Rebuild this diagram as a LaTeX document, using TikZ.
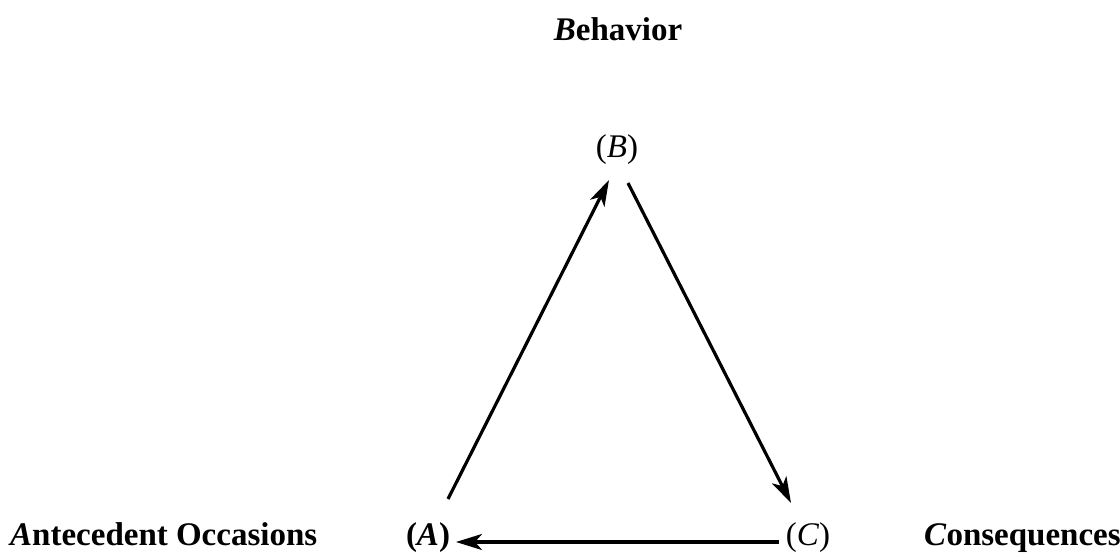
\documentclass[tikz,border=0pt]{standalone}
\usepackage{fontspec}
\setmainfont{Liberation Serif}
\usetikzlibrary{arrows.meta}
\tikzset{
  lbl/.style={anchor=base, inner sep=0pt, font=\fontsize{33}{40}\selectfont\bfseries},
  vtx/.style={anchor=base, inner sep=0pt, font=\fontsize{33}{40}\selectfont},
  conn/.style={line width=3.2pt, -{Stealth[length=26pt, width=16pt, inset=7pt]}}
}
\begin{document}
\begin{tikzpicture}[x=1pt,y=-1pt]
\useasboundingbox (0,0) rectangle (1120,553);
\node[lbl] (beh) at (618,41) {\textit{B}ehavior};
\node[lbl, anchor=base west] (ant) at (10,545) {\textit{A}ntecedent Occasions};
\node[lbl, anchor=base west] (con) at (924,545) {\textit{C}onsequences};
\node[vtx] (B) at (617,158) {(\textit{B})};
\node[vtx, font=\fontsize{33}{40}\selectfont\bfseries] (A) at (428,545) {(\textit{A})};
\node[vtx] (C) at (808,545) {(\textit{C})};
\coordinate (a1) at (448,499);
\coordinate (b1) at (609,180);
\coordinate (b2) at (628,183);
\coordinate (c1) at (791,503);
\coordinate (c2) at (779,542);
\coordinate (a2) at (456,542);
\draw[conn] (a1) -- (b1);
\draw[conn] (b2) -- (c1);
\draw[conn] (c2) -- (a2);
\end{tikzpicture}
\end{document}
